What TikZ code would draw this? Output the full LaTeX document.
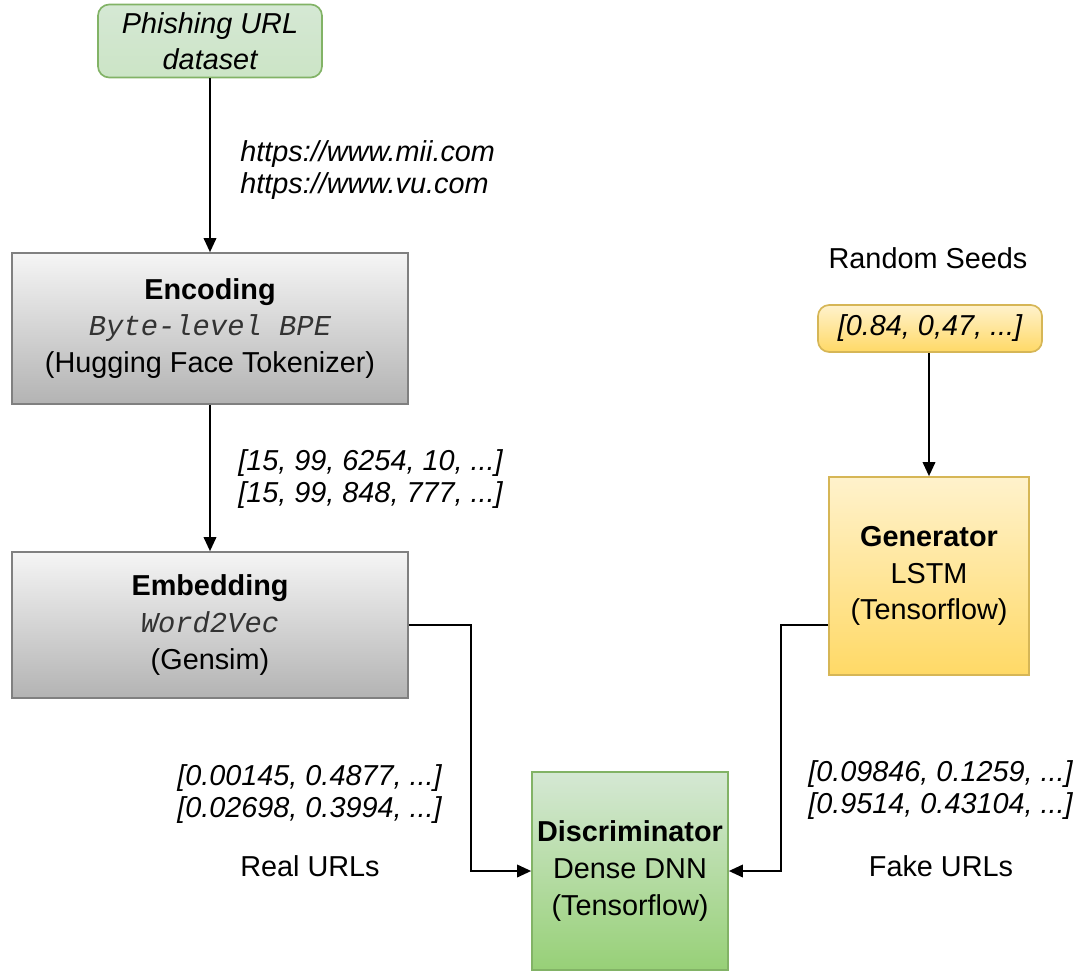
\documentclass[tikz,border=0pt]{standalone}
\usepackage{fontspec}
\setmainfont{Liberation Sans}
\newfontfamily\monofont{Liberation Mono}
\usetikzlibrary{arrows.meta}
\definecolor{grnline}{HTML}{82B366}
\definecolor{grntop}{HTML}{D5E8D4}
\definecolor{grnbot}{HTML}{97D077}
\definecolor{grytop}{HTML}{F5F5F5}
\definecolor{grybot}{HTML}{B3B3B3}
\definecolor{gryline}{HTML}{808080}
\definecolor{yeltop}{HTML}{FFF2CC}
\definecolor{yelbot}{HTML}{FFD966}
\definecolor{yelline}{HTML}{D6B656}
\definecolor{monocol}{HTML}{333333}
\tikzset{
  txt/.style={font=\fontsize{20.5}{26}\selectfont, align=center, inner sep=0pt},
  lbl/.style={font=\fontsize{20.5}{22.5}\selectfont, inner sep=0pt, align=left},
  box/.style={txt, draw, line width=1.2pt},
  graybox/.style={box, draw=gryline, top color=grytop, bottom color=grybot},
  greenbox/.style={box, draw=grnline, top color=grntop, bottom color=grnbot},
  yellowbox/.style={box, draw=yelline, top color=yeltop, bottom color=yelbot},
  conn/.style={line width=1.1pt, -{Triangle[length=10pt,width=9pt]}}
}
\newcommand{\mt}[1]{{\color{monocol}\monofont\itshape #1}}
\begin{document}
\begin{tikzpicture}[x=0.025cm, y=-0.025cm]
\useasboundingbox (0,0) rectangle (1091,972);
% nodes
\node[box, rounded corners=8pt, draw=grnline, top color=grntop, bottom color=grntop!85!grnbot,
      minimum width=5.6cm, minimum height=1.825cm] (data) at (210,41) {\itshape Phishing URL\\\itshape dataset};
\node[graybox, minimum width=9.9cm, minimum height=3.775cm] (enc) at (210,328.5)
  {\textbf{Encoding}\\\mt{Byte-level BPE}\\(Hugging Face Tokenizer)};
\node[graybox, minimum width=9.9cm, minimum height=3.65cm] (emb) at (210,625)
  {\textbf{Embedding}\\\mt{Word2Vec}\\(Gensim)};
\node[greenbox, minimum width=4.9cm, minimum height=4.95cm] (disc) at (630,871)
  {\textbf{Discriminator}\\Dense DNN\\(Tensorflow)};
\node[yellowbox, rounded corners=8pt, minimum width=5.6cm, minimum height=1.175cm] (seeds) at (930,328.5)
  {\itshape [0.84, 0,47, ...]};
\node[yellowbox, minimum width=5.0cm, minimum height=4.95cm] (gen) at (929,576)
  {\textbf{Generator}\\LSTM\\(Tensorflow)};
% labels
\node[lbl, anchor=west] (url) at (240,170) {\itshape https://www.mii.com\\\itshape https://www.vu.com};
\node[lbl, anchor=west] (tok) at (238,479) {\itshape [15, 99, 6254, 10, ...]\\\itshape [15, 99, 848, 777, ...]};
\node[lbl, anchor=east] (realv) at (442,794) {\itshape [0.00145, 0.4877, ...]\\\itshape [0.02698, 0.3994, ...]};
\node[txt] (real) at (310,866) {Real URLs};
\node[lbl, anchor=west] (fakev) at (808,790) {\itshape [0.09846, 0.1259, ...]\\\itshape [0.9514, 0.43104, ...]};
\node[txt] (fake) at (941,866) {Fake URLs};
\node[txt] (rs) at (928,258) {Random Seeds};
% connectors
\draw[conn] (data) -- (enc);
\draw[conn] (enc) -- (emb);
\draw[conn] (seeds.south -| gen.north) -- (gen.north);
\draw[conn] (emb.east) -- ++(62,0) |- (disc.west);
\draw[conn] ([yshift=-35pt]gen.west) -- ++(-47,0) |- (disc.east);
\end{tikzpicture}
\end{document}
